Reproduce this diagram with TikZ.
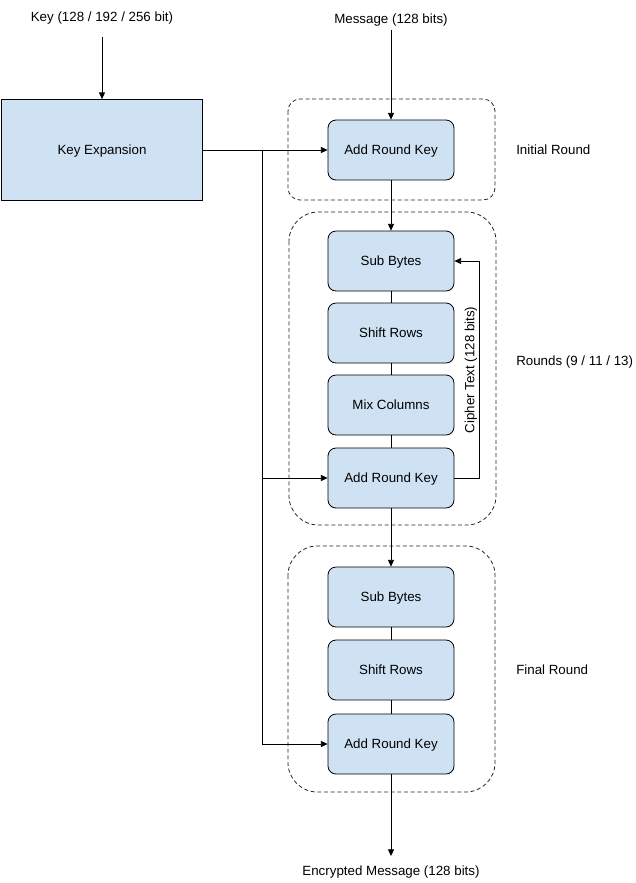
\documentclass[tikz,border=0pt]{standalone}
\usepackage{fontspec}
\setmainfont{Liberation Sans}
\usetikzlibrary{arrows.meta}
\definecolor{stepfill}{HTML}{CFE2F3}
\begin{document}
\begin{tikzpicture}[x=0.75pt,y=-0.75pt,
  font=\fontsize{10}{12}\selectfont,
  stage/.style={draw=black,fill=stepfill,rounded corners=6pt,minimum width=94.5pt,minimum height=45pt,inner sep=0pt,line width=0.6pt,text depth=0pt},
  keybox/.style={draw=black,fill=stepfill,minimum width=150.75pt,minimum height=75.75pt,inner sep=0pt,line width=0.6pt,text depth=0pt},
  group/.style={draw=black!85,dashed,dash pattern=on 3pt off 2pt,line width=0.6pt},
  flow/.style={-{Triangle[length=5pt,width=4.5pt]},line width=0.6pt},
  link/.style={line width=0.6pt},
  lbl/.style={inner sep=0pt}
]
\useasboundingbox (0,0) rectangle (636,883);

% dashed round groups
\draw[group,rounded corners=9pt] (288,99) rectangle (495,200);
\draw[group,rounded corners=22pt] (289,212) rectangle (496,525);
\draw[group,rounded corners=22pt] (288,546) rectangle (495,792);

% texts
\node[lbl] (keyin) at (102,18) {Key (128 / 192 / 256 bit)};
\node[lbl] (msg) at (391,20) {Message (128 bits)};
\node[lbl] (enc) at (391,872) {Encrypted Message (128 bits)};
\node[lbl,anchor=west] (lr0) at (516,150) {Initial Round};
\node[lbl,anchor=west] (lr1) at (516,362) {Rounds (9 / 11 / 13)};
\node[lbl,anchor=west] (lr2) at (516,670) {Final Round};

% boxes
\node[keybox] (kexp) at (102,150) {Key Expansion};
\node[stage] (ark0) at (391,150) {Add Round Key};
\node[stage] (sb1) at (391,261) {Sub Bytes};
\node[stage] (sr1) at (391,333) {Shift Rows};
\node[stage] (mc1) at (391,405) {Mix Columns};
\node[stage] (ark1) at (391,478) {Add Round Key};
\node[stage] (sb2) at (391,597) {Sub Bytes};
\node[stage] (sr2) at (391,670) {Shift Rows};
\node[stage] (ark2) at (391,744) {Add Round Key};

% main data path
\coordinate (keytop) at (102,37);
\coordinate (msgtop) at (391,30);
\coordinate (encend) at (391,856);
\draw[flow] (keytop) -- (kexp.north);
\draw[flow] (msgtop) -- (ark0.north);
\draw[flow] (ark0.south) -- (sb1.north);
\draw[link] (sb1.south) -- (sr1.north);
\draw[link] (sr1.south) -- (mc1.north);
\draw[link] (mc1.south) -- (ark1.north);
\draw[flow] (ark1.south) -- (sb2.north);
\draw[link] (sb2.south) -- (sr2.north);
\draw[link] (sr2.south) -- (ark2.north);
\draw[flow] (ark2.south) -- (encend);

% round keys
\coordinate (kbus) at (262,150);
\draw[flow] (kexp.east) -- (ark0.west);
\draw[link] (kbus) -- (kbus |- ark2.west);
\draw[flow] (kbus |- ark1.west) -- (ark1.west);
\draw[flow] (kbus |- ark2.west) -- (ark2.west);

% feedback of the cipher text
\coordinate (fbx) at (479,0);
\draw[flow] (ark1.east) -- (fbx |- ark1.east) -- (fbx |- sb1.east) -- (sb1.east);
\node[lbl,rotate=90] (ctext) at (471,370) {Cipher Text (128 bits)};
\end{tikzpicture}
\end{document}
